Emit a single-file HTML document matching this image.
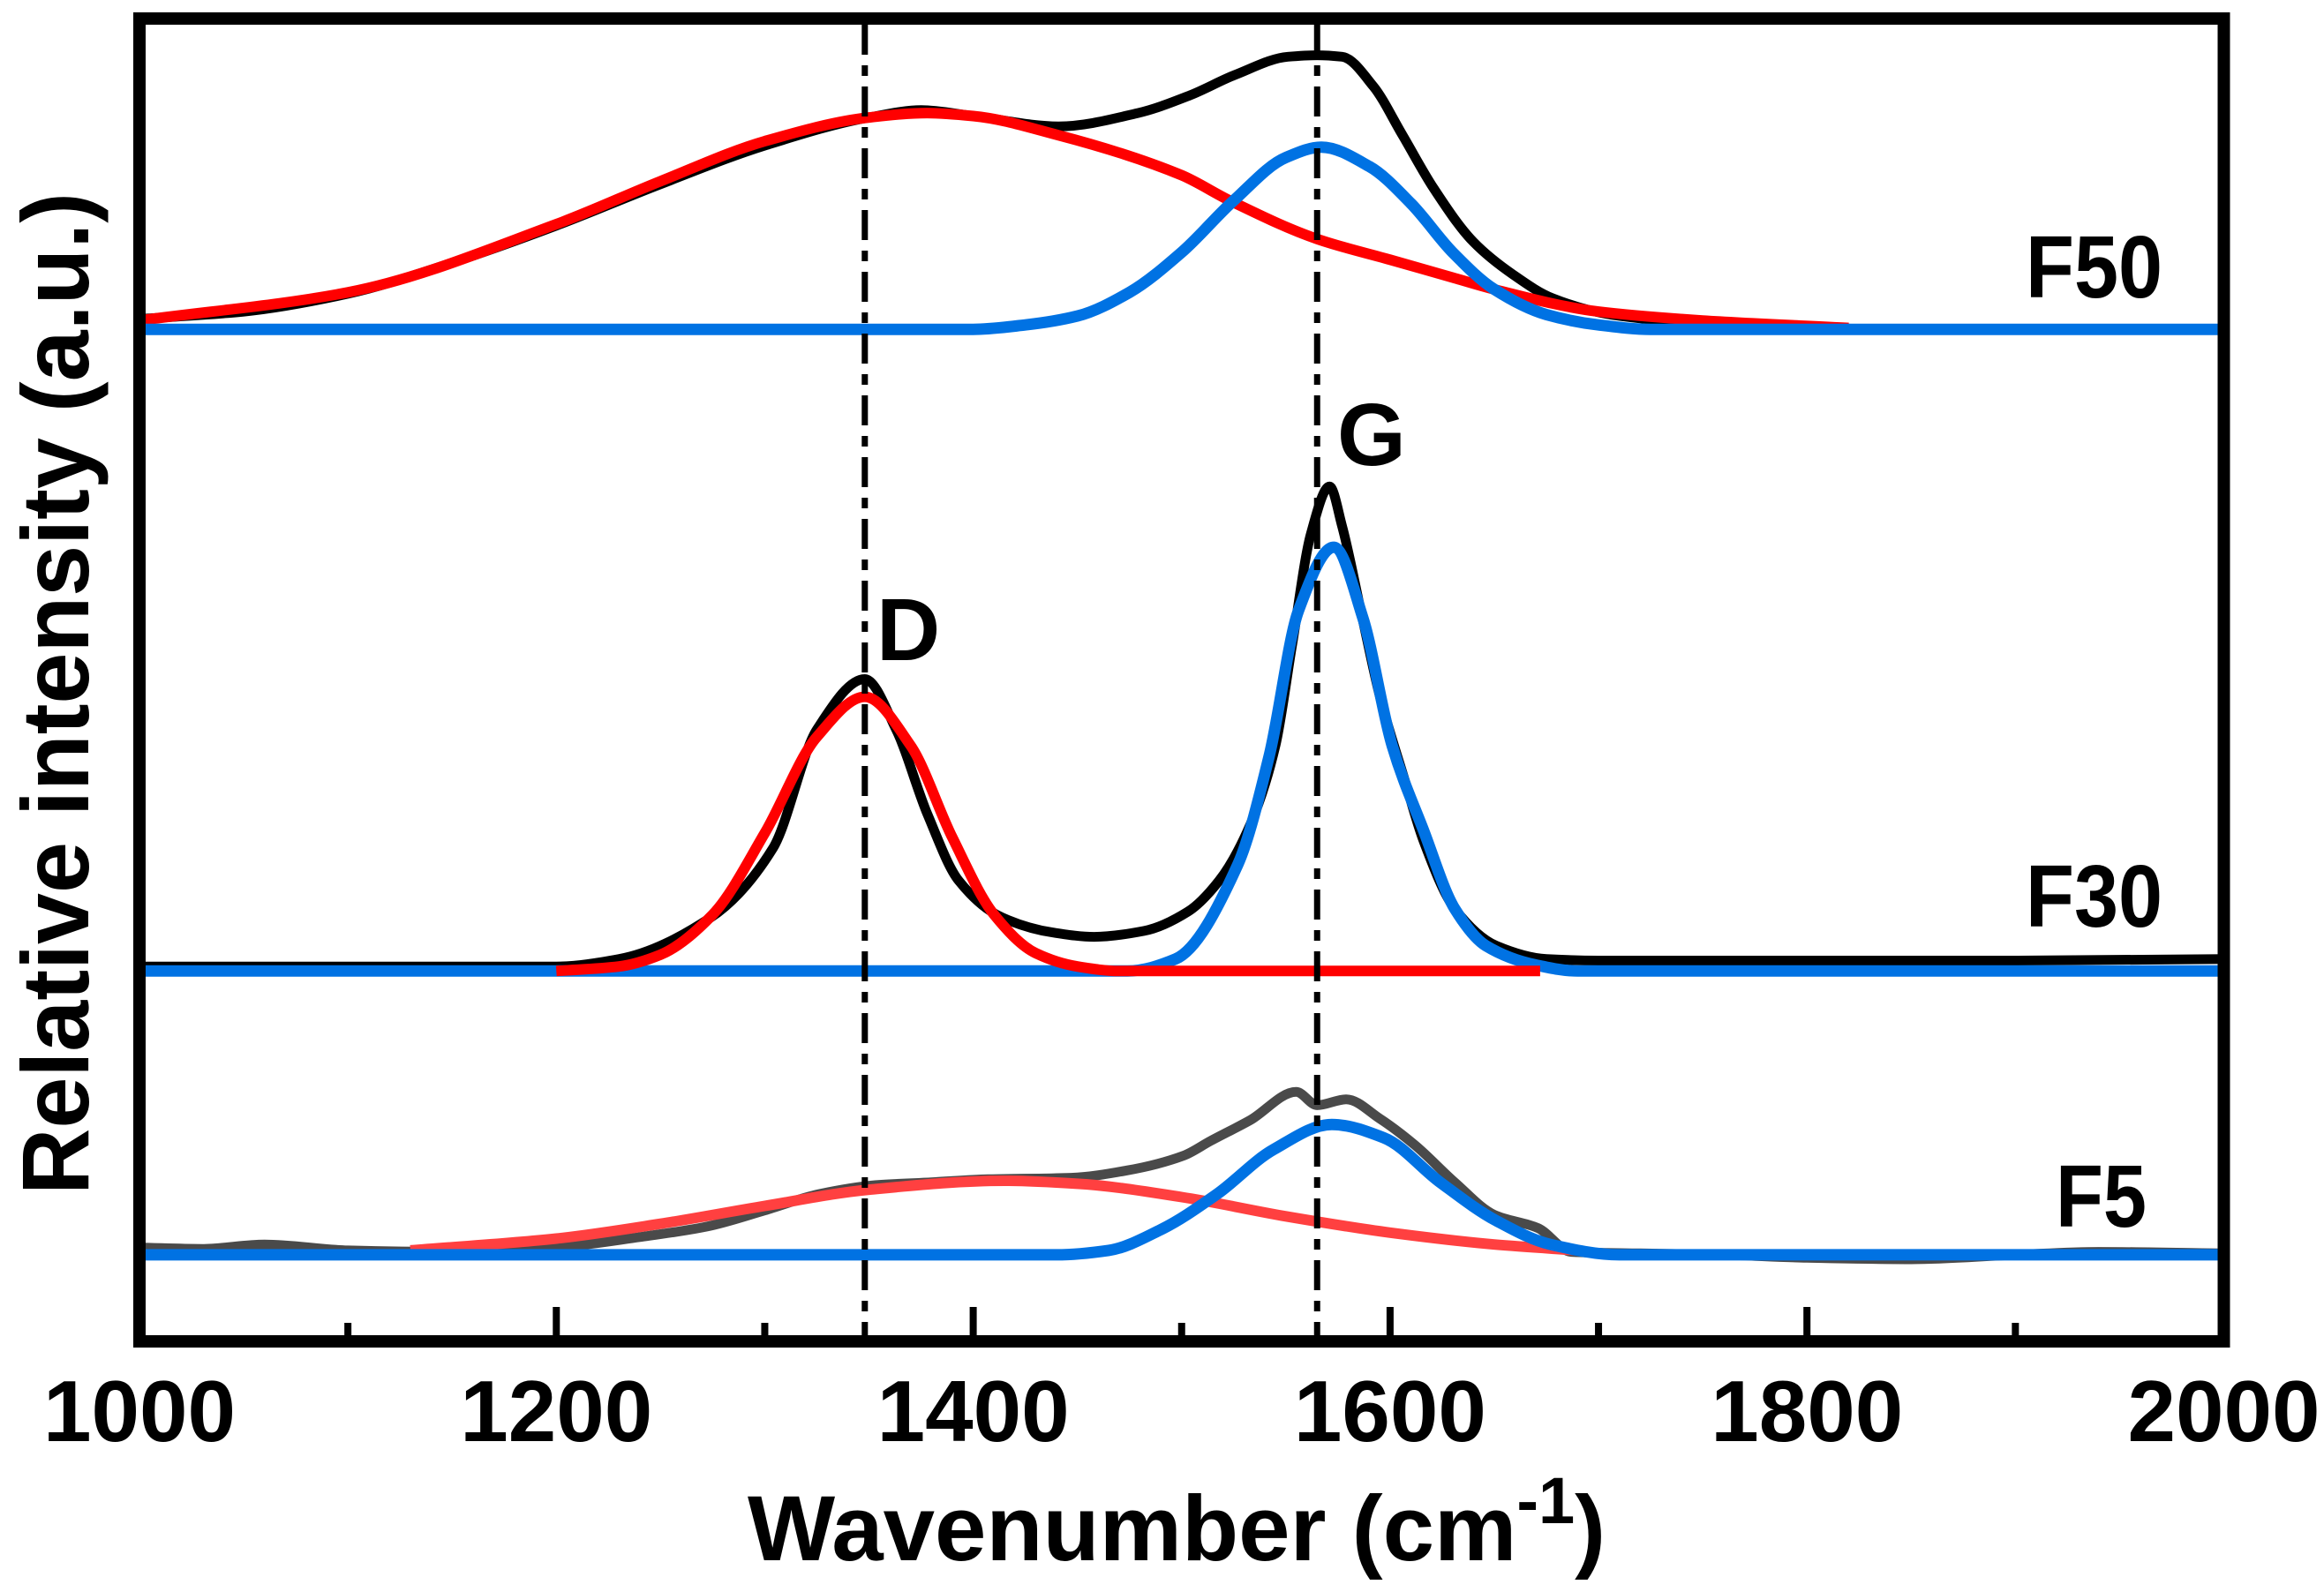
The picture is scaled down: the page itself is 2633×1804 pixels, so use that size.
<!DOCTYPE html>
<html><head><meta charset="utf-8"><title>Raman spectra</title>
<style>html,body{margin:0;padding:0;background:#fff}svg{display:block}</style></head>
<body>
<svg id="chart" width="2633" height="1804" viewBox="0 0 2633 1804" xmlns="http://www.w3.org/2000/svg" font-family="'Liberation Sans', sans-serif" font-weight="bold">
<g id="plot"></g>
<g id="axes"></g>
</svg>
<script>
// ---- data (wavenumber in cm^-1, intensity in a.u. above each spectrum's offset) ----
const xTicks = [1000, 1200, 1400, 1600, 1800, 2000];
const xMinorTicks = [1100, 1300, 1500, 1700, 1900];
const peakLines = [1348, 1565];
const sampleNames = ["F50", "F30", "F5"];
const sampleOffsets = [683, 250, 58.4];

const f50BlackX = [1000,1050,1100,1150,1200,1250,1300,1350,1375,1400,1441,1479,1504,1526,1551,1565,1577,1592,1606,1621,1640,1659,1678,1706,1750,1800,1850,2000];
const f50BlackY = [7,12,24,45,70,98,124,143,148,144,137,146,158,172,184,185,184,164,131,95,59,37,21,10,4,1,0,0];
const f50RedX = [1000,1100,1200,1250,1300,1350,1378,1400,1441,1500,1523,1565,1600,1630,1650,1700,1750,1820];
const f50RedY = [6,25,71,100,127,143,146,144,131,104,87,61,47,35,27,12,6,1];
const f50BlueX = [1000,1400,1425,1450,1475,1500,1525,1550,1567,1590,1610,1630,1650,1675,1700,1725,2000];
const f50BlueY = [0,0,3,9,25,52,87,116,123,110,85,52,27,10,3,0,0];

const f30BlackX = [1000,1100,1200,1230,1274,1304,1325,1348,1363,1378,1393,1414,1438,1458,1482,1503,1518,1533,1545,1553,1562,1571,1577,1586,1595,1607,1616,1631,1651,1675,1700,1800,1900,2000];
const f30BlackY = [3,3,3,8,36,83,163,197,163,106,61,36,26,23,27,40,61,99,152,220,295,327,300,243,186,129,88,42,17,8,7,7,7,8];
const f30RedX = [1200,1230,1250,1275,1300,1325,1348,1370,1390,1410,1430,1450,1470,1672];
const f30RedY = [0,3,11,38,93,158,185,152,90,38,12,3,0,0];
const f30BlueX = [1000,1474,1497,1527,1542,1556,1573,1587,1601,1616,1631,1646,1670,1690,2000];
const f30BlueY = [0,0,8,72,145,243,286,238,152,95,42,17,4,0,0];

const f5BlackX = [1000,1030,1060,1100,1150,1200,1240,1272,1300,1326,1353,1380,1407,1447,1474,1501,1514,1533,1555,1565,1579,1595,1612,1631,1650,1671,1687,1720,1760,1800,1850,1900,1940,2000];
const f5BlackY = [5,4,7,3,2,5,12,19,30,41,47,49,51,52,57,67,77,91,110,101,105,92,74,49,27,18,2,1,0,-2,-3,0,2,1];
const f5RedX = [1130,1200,1250,1300,1350,1415,1450,1500,1550,1600,1650,1690];
const f5RedY = [3,11,21,33,44,50,48,39,26,15,7,3];
const f5BlueX = [1000,1440,1465,1490,1517,1544,1572,1597,1624,1651,1677,1710,2000];
const f5BlueY = [0,0,3,17,41,71,88,79,49,23,7,0,0];

// ---- axis functions ----
const X0 = 158, X1 = 2519.5, Y0 = 1520, YPX = 1.679;
function xs(w) { return X0 + (w - 1000) / 1000 * (X1 - X0); }
function ys(v) { return Y0 - v * YPX; }

const NS = "http://www.w3.org/2000/svg";
const plot = document.getElementById("plot");
const axes = document.getElementById("axes");
function mk(tag, attrs, parent) {
  const e = document.createElementNS(NS, tag);
  for (const k in attrs) e.setAttribute(k, attrs[k]);
  parent.appendChild(e);
  return e;
}
// monotone cubic (Fritsch-Carlson) path through data points
function pathFor(xa, ya, off) {
  const px = xa.map(xs), py = ya.map(v => ys(v + off));
  const n = px.length;
  const dx = [], s = [];
  for (let i = 0; i < n - 1; i++) { dx.push(px[i + 1] - px[i]); s.push((py[i + 1] - py[i]) / dx[i]); }
  const m = new Array(n);
  m[0] = s[0]; m[n - 1] = s[n - 2];
  for (let i = 1; i < n - 1; i++) {
    if (s[i - 1] * s[i] <= 0) m[i] = 0;
    else {
      const w1 = 2 * dx[i] + dx[i - 1], w2 = dx[i] + 2 * dx[i - 1];
      m[i] = (w1 + w2) / (w1 / s[i - 1] + w2 / s[i]);
    }
  }
  let d = "M" + px[0].toFixed(1) + "," + py[0].toFixed(1);
  for (let i = 0; i < n - 1; i++) {
    const h = dx[i];
    d += "C" + (px[i] + h / 3).toFixed(1) + "," + (py[i] + m[i] * h / 3).toFixed(1) + " " +
      (px[i + 1] - h / 3).toFixed(1) + "," + (py[i + 1] - m[i + 1] * h / 3).toFixed(1) + " " +
      px[i + 1].toFixed(1) + "," + py[i + 1].toFixed(1);
  }
  return d;
}
function series(xa, ya, off, color, w, name) {
  const el = mk("path", {d: pathFor(xa, ya, off), fill: "none", stroke: color, "stroke-width": w, "stroke-linejoin": "round"}, plot);
  
  
}

// F50: black, red, blue on top
series(f50BlackX, f50BlackY, sampleOffsets[0], "#000000", 11, "f50-measured-spectrum");
series(f50RedX, f50RedY, sampleOffsets[0], "#ff0000", 12, "f50-d-band-fit");
series(f50BlueX, f50BlueY, sampleOffsets[0], "#0072e3", 13, "f50-g-band-fit");
// F30: black, blue, red on top
series(f30BlackX, f30BlackY, sampleOffsets[1], "#000000", 11, "f30-measured-spectrum");
series(f30BlueX, f30BlueY, sampleOffsets[1], "#0072e3", 13, "f30-g-band-fit");
series(f30RedX, f30RedY, sampleOffsets[1], "#ff0000", 12, "f30-d-band-fit");
// F5
series(f5BlackX, f5BlackY, sampleOffsets[2], "#4a4a4a", 11, "f5-measured-spectrum");
series(f5RedX, f5RedY, sampleOffsets[2], "#ff4040", 12, "f5-d-band-fit");
series(f5BlueX, f5BlueY, sampleOffsets[2], "#0072e3", 13, "f5-g-band-fit");

// peak reference lines
peakLines.forEach((w, i) => {
  const l = mk("line", {x1: xs(w), x2: xs(w), y1: 28, y2: 1513, stroke: "#000", "stroke-width": 7, "stroke-dasharray": "34 12 12 12"}, plot);
  
  
});

// frame
const frame = mk("rect", {x: 158, y: 21, width: 2361.5, height: 1499, fill: "none", stroke: "#000", "stroke-width": 14}, axes);



// ticks
xTicks.forEach(t => {
  const tk = mk("line", {x1: xs(t), x2: xs(t), y1: 1513, y2: 1481, stroke: "#000", "stroke-width": 8}, axes);
  
  
  const lb = mk("text", {x: xs(t), y: 1633, "text-anchor": "middle", "font-size": 98, fill: "#000"}, axes);
  lb.textContent = t;
  
  
});
xMinorTicks.forEach(t => {
  const tk = mk("line", {x1: xs(t), x2: xs(t), y1: 1513, y2: 1499, stroke: "#000", "stroke-width": 8}, axes);
  
  
});

// sample labels
const labelY = [337, 1050, 1390];
const labelRight = [2450, 2450, 2432];
sampleNames.forEach((n, i) => {
  const t = mk("text", {x: labelRight[i], y: labelY[i], "text-anchor": "end", "font-size": 100, fill: "#000", textLength: n.length === 3 ? 155 : 103, lengthAdjust: "spacingAndGlyphs"}, axes);
  t.textContent = n;
  
  
});
</script>
<script>
(function(){
  const svg = document.getElementById("chart");
  const NS = "http://www.w3.org/2000/svg";
  const d = document.createElementNS(NS, "text");
  d.setAttribute("x", 993); d.setAttribute("y", 748); d.setAttribute("font-size", 100);
  d.textContent = "D";
  
  
  svg.appendChild(d);
  const g = document.createElementNS(NS, "text");
  g.setAttribute("x", 1515); g.setAttribute("y", 527); g.setAttribute("font-size", 100);
  g.textContent = "G";
  
  
  svg.appendChild(g);
  const xt = document.createElementNS(NS, "text");
  xt.setAttribute("x", 847); xt.setAttribute("y", 1768); xt.setAttribute("font-size", 105);
  xt.innerHTML = 'Wavenumber (cm<tspan font-size="74" dy="-42">-1</tspan><tspan dy="42">)</tspan>';
  
  
  svg.appendChild(xt);
  const yt = document.createElementNS(NS, "text");
  yt.setAttribute("transform", "translate(100,786) rotate(-90)");
  yt.setAttribute("text-anchor", "middle"); yt.setAttribute("font-size", 108);
  yt.setAttribute("textLength", 1136); yt.setAttribute("lengthAdjust", "spacingAndGlyphs");
  yt.textContent = "Relative intensity (a.u.)";
  
  
  svg.appendChild(yt);
})();
</script>
</body></html>
